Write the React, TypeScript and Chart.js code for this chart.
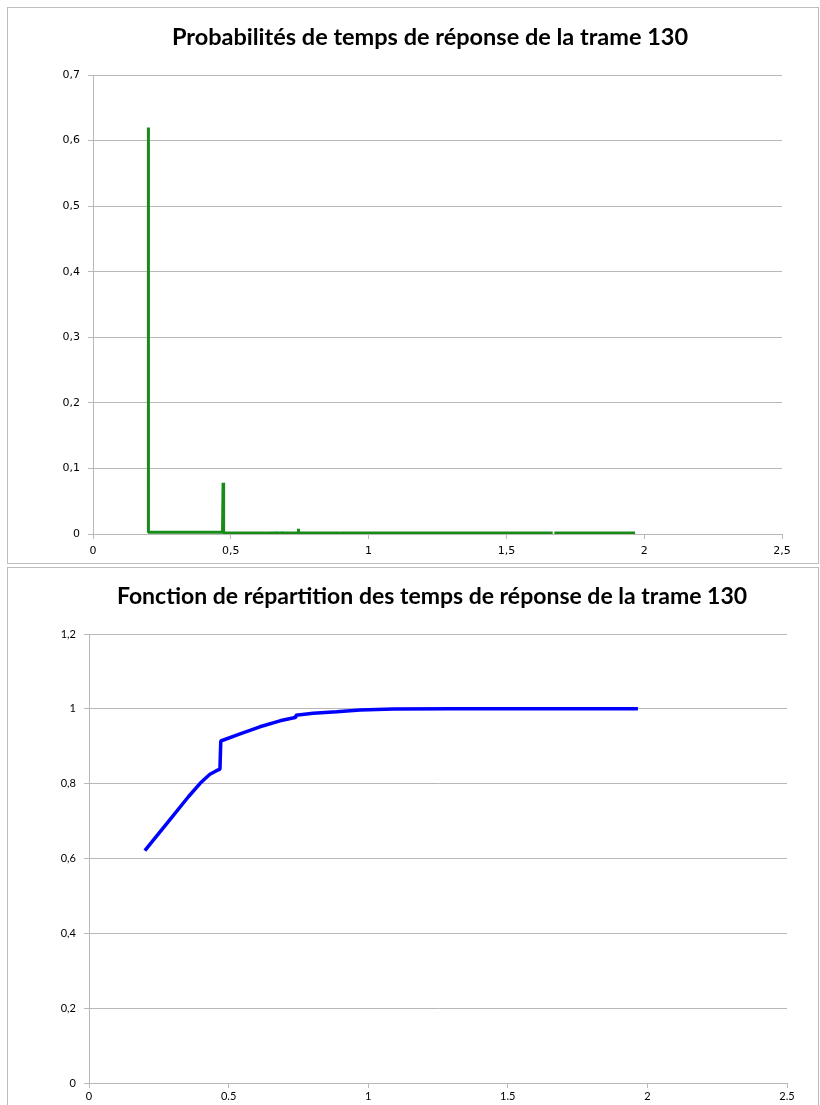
import React, { useEffect, useRef } from "react";
import { Chart, registerables } from "chart.js";

Chart.register(...registerables);

// ---- Top chart: probabilities ----
const TOP_TITLE = "Probabilités de temps de réponse de la trame 130";
const PROB_X = [0.201, 0.201, 0.3, 0.4, 0.47, 0.472, 0.473, 0.475, 0.55, 0.623, 0.624, 0.625, 0.663, 0.664, 0.665, 0.684, 0.685, 0.686, 0.744, 0.745, 0.746, 0.892, 0.893, 0.894, 1.0, 1.2, 1.4, 1.6, 1.668, 1.67, 1.674, 1.8, 1.967];
const PROB_Y: (number | null)[] = [0.62, 0.0025, 0.0025, 0.0025, 0.0025, 0.078, 0.078, 0.0015, 0.0015, 0.0015, 0.003, 0.0015, 0.0015, 0.004, 0.0015, 0.0015, 0.004, 0.0015, 0.0015, 0.008, 0.0015, 0.0015, 0.003, 0.0015, 0.0015, 0.0015, 0.0015, 0.0015, 0.0015, null, 0.0015, 0.0015, 0.0015];
const TOP_Y_LABELS = ["0", "0,1", "0,2", "0,3", "0,4", "0,5", "0,6", "0,7"];
const TOP_X_LABELS = ["0", "0,5", "1", "1,5", "2", "2,5"];

// ---- Bottom chart: cumulative distribution ----
const BOTTOM_TITLE = "Fonction de répartition des temps de réponse de la trame 130";
const CDF_X = [0.2, 0.25, 0.29, 0.356, 0.398, 0.433, 0.455, 0.469, 0.472, 0.541, 0.612, 0.684, 0.738, 0.741, 0.803, 0.887, 0.971, 1.09, 1.3, 1.6, 1.966];
const CDF_Y = [0.621, 0.667, 0.704, 0.765, 0.801, 0.825, 0.834, 0.839, 0.914, 0.933, 0.952, 0.968, 0.977, 0.983, 0.988, 0.992, 0.997, 0.9995, 1.0, 1.0, 1.0];
const BOTTOM_Y_LABELS = ["0", "0,2", "0,4", "0,6", "0,8", "1", "1,2"];
const BOTTOM_X_LABELS = ["0", "0.5", "1", "1.5", "2", "2.5"];

const GRID = "#b8b8b8";

const titlePlugin = {
  id: "titleAt",
  afterDraw(chart: any, _args: any, opts: any) {
    const ctx = chart.ctx;
    ctx.save();
    ctx.fillStyle = "#000";
    ctx.font = `bold ${opts.size}px Lato`;
    ctx.textAlign = "center";
    ctx.textBaseline = "middle";
    ctx.fillText(opts.text, opts.cx, opts.cy);
    ctx.restore();
  },
};

function buildConfig(opts: any) {
  const data = opts.xs.map((x: number, i: number) => ({ x, y: opts.ys[i] }));
  return {
    type: "scatter",
    data: {
      datasets: [
        {
          data,
          showLine: true,
          borderColor: opts.color,
          backgroundColor: opts.color,
          borderWidth: opts.lineWidth,
          borderJoinStyle: "bevel",
          pointRadius: 0,
          spanGaps: false,
          tension: 0,
        },
      ],
    },
    plugins: [titlePlugin],
    options: {
      responsive: false,
      animation: false,
      devicePixelRatio: 1,
      layout: { padding: { left: 0, right: opts.padRight, top: opts.padTop, bottom: 0 } },
      plugins: {
        legend: { display: false },
        tooltip: { enabled: false },
        title: { display: false },
        titleAt: { text: opts.title, size: opts.titleSize, cx: opts.titleX, cy: 29 },
      },
      scales: {
        x: {
          type: "linear",
          min: 0,
          max: 2.5,
          ticks: {
            stepSize: 0.5,
            color: "#000",
            padding: opts.xTickPad,
            maxRotation: 0,
            font: { family: opts.tickFont, size: 11 },
            callback: (_v: any, i: number) => opts.xLabels[i],
          },
          grid: { drawOnChartArea: false, drawTicks: true, tickLength: 5, color: GRID },
          border: { color: GRID, width: 1 },
          afterFit: (s: any) => { s.height = opts.xHeight; },
        },
        y: {
          type: "linear",
          min: 0,
          max: opts.yMax,
          ticks: {
            stepSize: opts.yStep,
            color: "#000",
            padding: 8,
            font: { family: opts.tickFont, size: 11 },
            callback: (_v: any, i: number) => opts.yLabels[i],
          },
          grid: { drawOnChartArea: true, drawTicks: true, tickLength: 5, color: GRID },
          border: { color: GRID, width: 1 },
          afterFit: (s: any) => { s.width = opts.yWidth; },
        },
      },
    },
  };
}

function ChartBox(props: { top: number; height: number; canvasHeight: number; config: any }) {
  const ref = useRef<HTMLCanvasElement>(null);
  useEffect(() => {
    if (!ref.current) return;
    const chart = new Chart(ref.current, props.config);
    return () => chart.destroy();
  }, []);
  return (
    <div
      style={{
        position: "absolute",
        left: 7,
        top: props.top,
        width: 810,
        height: props.height,
        border: "1px solid #bdbdbd",
        overflow: "hidden",
        background: "#fff",
      }}
    >
      <canvas
        ref={ref}
        width={810}
        height={props.canvasHeight}
        style={{ display: "block", width: 810, height: props.canvasHeight }}
      />
    </div>
  );
}

export default function App() {
  const topCfg = buildConfig({
    xs: PROB_X,
    ys: PROB_Y,
    color: "#178a17",
    lineWidth: 3,
    title: TOP_TITLE,
    titleSize: 23.5,
    titleX: 422,
    padTop: 67,
    padRight: 36,
    yMax: 0.7,
    yStep: 0.1,
    yLabels: TOP_Y_LABELS,
    xLabels: TOP_X_LABELS,
    tickFont: "DejaVu Sans",
    xTickPad: 6,
    xHeight: 29,
    yWidth: 85,
  });
  const bottomCfg = buildConfig({
    xs: CDF_X,
    ys: CDF_Y,
    color: "#0000ff",
    lineWidth: 3.5,
    title: BOTTOM_TITLE,
    titleSize: 23,
    titleX: 424,
    padTop: 66,
    padRight: 31,
    yMax: 1.2,
    yStep: 0.2,
    yLabels: BOTTOM_Y_LABELS,
    xLabels: BOTTOM_X_LABELS,
    tickFont: "Lato",
    xTickPad: 2,
    xHeight: 30,
    yWidth: 81,
  });
  return (
    <div>
      <ChartBox top={7} height={555} canvasHeight={555} config={topCfg} />
      <ChartBox top={567} height={560} canvasHeight={545} config={bottomCfg} />
    </div>
  );
}
